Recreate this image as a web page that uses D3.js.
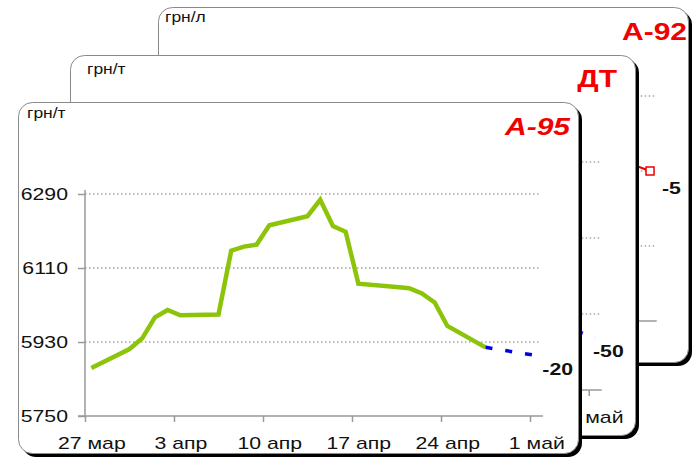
<!DOCTYPE html>
<html>
<head>
<meta charset="utf-8">
<script src="https://cdn.jsdelivr.net/npm/d3@7"></script>
<style>
  body { margin: 0; background: #fff; }
  svg { display: block; }
  text { font-family: "Liberation Sans", Arial, sans-serif; fill: #111; }
</style>
</head>
<body>
<div id="chart"></div>
<script>
// А-95 daily prices, грн/т (weekdays only)
var a95Dates = ["2009-03-27", "2009-03-30", "2009-03-31", "2009-04-01", "2009-04-02", "2009-04-03",
  "2009-04-06", "2009-04-07", "2009-04-08", "2009-04-09", "2009-04-10",
  "2009-04-13", "2009-04-14", "2009-04-15", "2009-04-16", "2009-04-17",
  "2009-04-20", "2009-04-21", "2009-04-22", "2009-04-23", "2009-04-24", "2009-04-27"];
var a95Values = [5867, 5913, 5939, 5990, 6008, 5995,
  5997, 6152, 6162, 6167, 6214,
  6236, 6276, 6212, 6198, 6072,
  6064, 6061, 6048, 6026, 5969, 5917];
var a95Ticks = [5750, 5930, 6110, 6290];

// forecasts (last value -> 1 май)
var forecastDates = ["2009-04-27", "2009-05-01"];
var a95Forecast = [5917, 5897];
var dtForecast = [5387, 5337];   // hidden card, estimated
var a92Forecast = [6.05, 6.0];   // hidden card, estimated

// y ticks of the cards behind (labels are covered)
var dtTicks = [5200, 5400, 5600, 5800];
var a92Ticks = [5.6, 5.8, 6.0, 6.2];

var xTickDates = ["2009-03-27", "2009-04-03", "2009-04-10", "2009-04-17", "2009-04-24", "2009-05-01"];
var xTickLabels = ["27 мар", "3 апр", "10 апр", "17 апр", "24 апр", "1 май"];

var SX = 1.25; // the original text is drawn horizontally stretched
var parse = d3.timeParse("%Y-%m-%d");
var noon = function (s) { return d3.timeHour.offset(parse(s), 12); };

var svg = d3.select("#chart").append("svg")
  .attr("width", 700)
  .attr("height", 459);

function addText(g, x, y, str, size, weight, anchor, style) {
  return g.append("text")
    .attr("transform", "translate(" + x + "," + y + ") scale(" + SX + ",1)")
    .attr("font-size", size)
    .attr("font-weight", weight || "normal")
    .attr("font-style", style || "normal")
    .attr("text-anchor", anchor || "start")
    .text(str);
}

function drawCard(c) {
  var g = svg.append("g").attr("transform", "translate(" + c.box.x + "," + c.box.y + ")");

  // shadow + card
  g.append("rect")
    .attr("x", 4).attr("y", 4)
    .attr("width", c.box.w).attr("height", c.box.h)
    .attr("rx", 14).attr("fill", "#000");
  g.append("rect")
    .attr("x", 0.5).attr("y", 0.5)
    .attr("width", c.box.w).attr("height", c.box.h)
    .attr("rx", 14).attr("fill", "#fff")
    .attr("stroke", "#8a8a8a").attr("stroke-width", 1);

  var x = d3.scaleTime()
    .domain([parse("2009-03-27"), parse("2009-05-01")])
    .range([c.plot.left, c.plot.right]);
  var y = d3.scaleLinear()
    .domain([c.ticks[0], c.ticks[c.ticks.length - 1]])
    .range([c.plot.bottom, c.plot.top]);
  var halfDay = x(noon("2009-03-27")) - x(parse("2009-03-27"));

  // dotted gridlines
  g.append("g").selectAll("line")
    .data(c.ticks.slice(1))
    .enter().append("line")
    .attr("x1", c.plot.left).attr("x2", c.plot.right + 11)
    .attr("y1", function (d) { return y(d); })
    .attr("y2", function (d) { return y(d); })
    .attr("stroke", "#777").attr("stroke-width", 1)
    .attr("stroke-dasharray", "1.5,2.5");

  // y axis
  var ya = g.append("g")
    .attr("transform", "translate(" + c.plot.left + ",0)")
    .call(d3.axisLeft(y).tickValues(c.ticks).tickFormat(c.fmt).tickSize(7).tickPadding(10).tickSizeOuter(0));
  ya.select(".domain").remove();
  ya.selectAll("line").attr("stroke", "#999").attr("stroke-width", 1.5);
  ya.selectAll("text")
    .attr("x", -17 / SX)
    .attr("transform", "scale(" + SX + ",1)")
    .attr("font-size", 17).attr("font-family", null).attr("fill", "#111");
  g.append("line")
    .attr("x1", c.plot.left).attr("x2", c.plot.left)
    .attr("y1", y(c.ticks[0])).attr("y2", y(c.ticks[c.ticks.length - 1]) - 4)
    .attr("stroke", "#999").attr("stroke-width", 1.5);

  // x axis
  if (c.xLabels) {
    var xa = g.append("g")
      .attr("transform", "translate(0," + c.plot.bottom + ")")
      .call(d3.axisBottom(x).tickValues(xTickDates.map(parse))
        .tickFormat(function (d, i) { return xTickLabels[i]; })
        .tickSize(6).tickPadding(15).tickSizeOuter(0));
    xa.select(".domain").remove();
    xa.selectAll("line").attr("stroke", "#999").attr("stroke-width", 1.5);
    xa.selectAll("text")
      .attr("x", halfDay / SX)
      .attr("transform", "scale(" + SX + ",1)")
      .attr("font-size", 17).attr("font-family", null).attr("fill", "#111");
  }
  g.append("line")
    .attr("x1", c.plot.left - 7).attr("x2", c.plot.right + 13)
    .attr("y1", c.plot.bottom).attr("y2", c.plot.bottom)
    .attr("stroke", "#999").attr("stroke-width", 1.5);

  var line = d3.line()
    .x(function (d) { return x(noon(d[0])); })
    .y(function (d) { return y(d[1]); });

  if (c.dates) {
    g.append("path")
      .datum(d3.zip(c.dates, c.values))
      .attr("d", line)
      .attr("fill", "none")
      .attr("stroke", "#8cc40a")
      .attr("stroke-width", 4.5)
      .attr("stroke-linejoin", "miter");
  }

  var fc = d3.zip(forecastDates, c.forecast);
  var fpath = g.append("path")
    .datum(fc)
    .attr("d", line)
    .attr("fill", "none")
    .attr("stroke", c.fcColor)
    .attr("stroke-width", c.fcDash ? 3.5 : 2);
  if (c.fcDash) fpath.attr("stroke-dasharray", "7,13").attr("stroke-dashoffset", c.dashOffset || 0);
  var last = fc[fc.length - 1];
  var lx = x(noon(last[0])), ly = y(last[1]);
  if (c.fcMarker) {
    g.append("rect")
      .attr("x", lx - 4).attr("y", ly - 4)
      .attr("width", 8).attr("height", 8)
      .attr("fill", "#fff").attr("stroke", c.fcColor).attr("stroke-width", 1.5);
  }
  addText(g, lx + c.chg.dx, ly + c.chg.dy + 6, c.chg.text, 17, "bold");

  addText(g, c.unit.x, c.unit.y, c.unit.text, 14);
  addText(g, c.box.w - c.title.dx, c.title.y, c.title.text, 24, "bold", "end", c.title.italic ? "italic" : "normal")
    .attr("fill", "#f20000")
    .style("fill", "#f20000");
}

var cards = [
  {
    box: { x: 158, y: 7, w: 530, h: 355 },
    plot: { left: 42.7, right: 485.7, bottom: 314, top: 89 },
    ticks: a92Ticks, fmt: d3.format(".2f"), xLabels: false,
    forecast: a92Forecast, fcColor: "#ee0000", fcDash: false, fcMarker: true,
    chg: { text: "-5", dx: 12, dy: 17 },
    unit: { text: "грн/л", x: 7, y: 15 },
    title: { text: "А-92", dx: 1, y: 33, italic: false }
  },
  {
    box: { x: 70, y: 55, w: 565, h: 380 },
    plot: { left: 75.7, right: 518.7, bottom: 335, top: 107 },
    ticks: dtTicks, fmt: d3.format("d"), xLabels: true,
    forecast: dtForecast, fcColor: "#0000e0", fcDash: true, dashOffset: 6, fcMarker: false,
    chg: { text: "-50", dx: -2, dy: 13 },
    unit: { text: "грн/т", x: 17, y: 19 },
    title: { text: "ДТ", dx: 18, y: 32, italic: false }
  },
  {
    box: { x: 18, y: 102, w: 560, h: 351 },
    plot: { left: 67, right: 512, bottom: 314, top: 92 },
    ticks: a95Ticks, fmt: d3.format("d"), xLabels: true,
    dates: a95Dates, values: a95Values,
    forecast: a95Forecast, fcColor: "#0000e0", fcDash: true, fcMarker: false,
    chg: { text: "-20", dx: 6, dy: 13 },
    unit: { text: "грн/т", x: 9, y: 16 },
    title: { text: "А-95", dx: 8, y: 33, italic: true }
  }
];

cards.forEach(drawCard);
</script>
</body>
</html>
